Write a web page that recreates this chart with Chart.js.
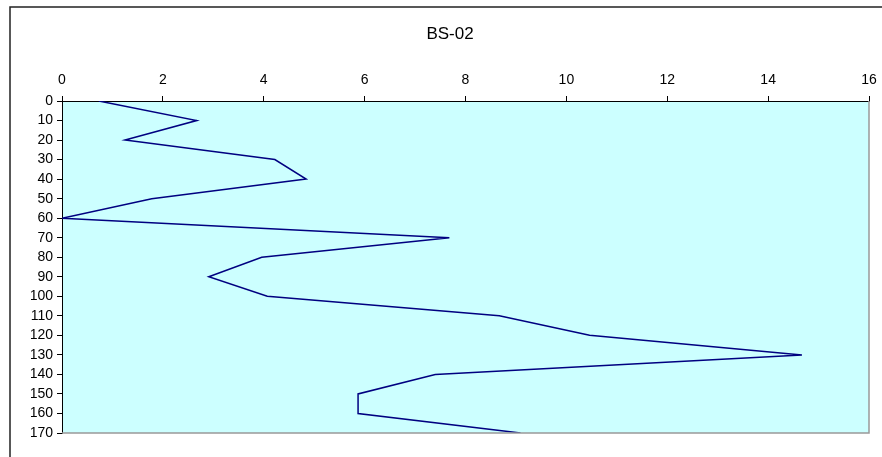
<!DOCTYPE html>
<html>
<head>
<meta charset="utf-8">
<script src="https://cdn.jsdelivr.net/npm/chart.js@4"></script>
<style>
  html, body { margin: 0; padding: 0; background: #fff; }
  #wrap { width: 882px; height: 457px; position: relative; }
</style>
</head>
<body>
<div id="wrap"><canvas id="chart"></canvas></div>
<script>
const depths = [0, 10, 20, 30, 40, 50, 60, 70, 80, 90, 100, 110, 120, 130, 140, 150, 160, 170];
const values = [0.73, 2.67, 1.25, 4.22, 4.84, 1.78, 0, 7.68, 3.96, 2.91, 4.07, 8.67, 10.46, 14.67, 7.40, 5.87, 5.87, 9.09];
const xTicks = [0, 2, 4, 6, 8, 10, 12, 14, 16];
const yTicks = depths;

Chart.defaults.font.family = "'Liberation Sans', Arial, sans-serif";
Chart.defaults.font.size = 14;
Chart.defaults.color = '#000';

// plot background + gray right/bottom border, outer frame
const frame = {
  id: 'frame',
  beforeDraw(chart) {
    const c = chart.ctx, a = chart.chartArea;
    c.save();
    c.fillStyle = '#ccffff';
    c.fillRect(a.left, a.top, a.right - a.left, a.bottom - a.top);
    c.restore();
  },
  afterDraw(chart) {
    const c = chart.ctx, a = chart.chartArea;
    c.save();
    c.strokeStyle = '#999';
    c.lineWidth = 1.5;
    c.beginPath();
    c.moveTo(a.right, a.top);
    c.lineTo(a.right, a.bottom);
    c.lineTo(a.left, a.bottom);
    c.stroke();
    c.strokeStyle = '#222';
    c.lineWidth = 1.5;
    c.beginPath();
    c.moveTo(882, 7);
    c.lineTo(10, 7);
    c.lineTo(10, 457);
    c.stroke();
    c.restore();
  }
};

const points = depths.map((d, i) => ({ x: values[i], y: d }));

new Chart(document.getElementById('chart'), {
  type: 'scatter',
  data: {
    datasets: [{
      data: points,
      showLine: true,
      borderColor: '#000080',
      borderWidth: 1.5,
      pointRadius: 0,
      tension: 0,
      fill: false
    }]
  },
  options: {
    responsive: true,
    maintainAspectRatio: false,
    animation: false,
    layout: { padding: { left: 31, right: 13, top: 0, bottom: 24 } },
    plugins: {
      legend: { display: false },
      tooltip: { enabled: false },
      title: {
        display: true,
        text: 'BS-02',
        color: '#000',
        font: { size: 17, weight: 'normal' },
        padding: { top: 24, bottom: 10 }
      }
    },
    scales: {
      x: {
        type: 'linear',
        position: 'top',
        min: 0,
        max: 16,
        afterBuildTicks: s => { s.ticks = xTicks.map(v => ({ value: v })); },
        afterFit: s => { s.height = 46.6; s.paddingLeft = 0; s.paddingRight = 0; },
        ticks: { padding: 7.6, maxRotation: 0 },
        grid: { drawOnChartArea: false, tickLength: 5, color: '#000' },
        border: { color: '#000', width: 1 }
      },
      y: {
        type: 'linear',
        reverse: true,
        min: 0,
        max: 170,
        afterBuildTicks: s => { s.ticks = yTicks.map(v => ({ value: v })); },
        afterFit: s => { s.width = 31; s.paddingTop = 0; s.paddingBottom = 0; },
        ticks: { padding: 4, autoSkip: false },
        grid: { drawOnChartArea: false, tickLength: 5, color: '#000' },
        border: { color: '#000', width: 1 }
      }
    }
  },
  plugins: [frame]
});
</script>
</body>
</html>
